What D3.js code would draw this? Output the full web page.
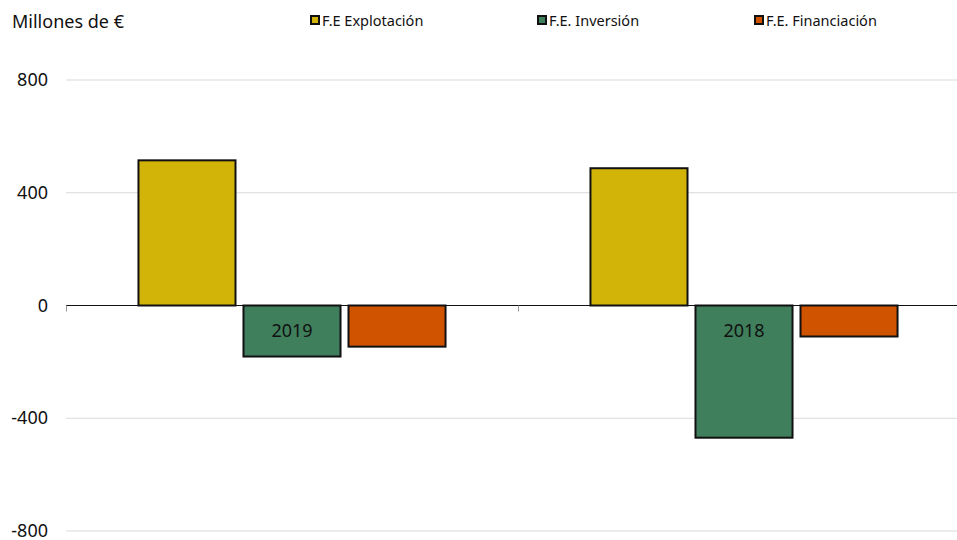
<!DOCTYPE html>
<html>
<head>
<meta charset="utf-8">
<script src="https://cdn.jsdelivr.net/npm/d3@7"></script>
<style>
  body { margin: 0; background: #fff; }
  svg text { font-family: "Noto Sans", sans-serif; fill: #111; }
</style>
</head>
<body>
<svg width="957" height="540"></svg>
<script>
const years = ['2019', '2018'];
const seriesNames = ['F.E Explotación', 'F.E. Inversión', 'F.E. Financiación'];
const seriesColors = ['#d2b408', '#3f7f5b', '#d05300'];
const explotacion = [515, 487];
const inversion = [-181, -469];
const financiacion = [-146, -110];
const yTicks = [-800, -400, 0, 400, 800];

const svg = d3.select('svg');
const plotLeft = 66, plotRight = 970, plotTop = 80, plotBottom = 531;

const y = d3.scaleLinear().domain([-800, 800]).range([plotBottom, plotTop]);
const x0 = d3.scaleBand().domain(years).range([plotLeft, plotRight]).paddingInner(0).paddingOuter(0);
const x1 = d3.scaleBand().domain(seriesNames).range([0, x0.bandwidth()]).paddingInner(0.076).paddingOuter(0.69);

// grid
svg.append('g')
  .selectAll('line')
  .data(yTicks.filter(d => d !== 0))
  .enter()
  .append('line')
  .attr('x1', plotLeft)
  .attr('x2', 957)
  .attr('y1', d => y(d))
  .attr('y2', d => y(d))
  .attr('stroke', '#d9d9d9')
  .attr('stroke-width', 1);

// y labels
svg.append('g')
  .selectAll('text')
  .data(yTicks)
  .enter()
  .append('text')
  .attr('x', 48)
  .attr('y', d => y(d) + 6)
  .attr('text-anchor', 'end')
  .style('font-size', '18px')
  .text(d => d);

const rows = years.map((yr, i) => ({
  year: yr,
  values: [explotacion[i], inversion[i], financiacion[i]],
}));

const group = svg.selectAll('g.cat')
  .data(rows)
  .enter()
  .append('g')
  .attr('class', 'cat')
  .attr('transform', d => `translate(${x0(d.year)},0)`);

group.selectAll('rect')
  .data(d => d.values.map((v, i) => ({ name: seriesNames[i], value: v, color: seriesColors[i] })))
  .enter()
  .append('rect')
  .attr('x', d => x1(d.name))
  .attr('width', x1.bandwidth())
  .attr('y', d => y(Math.max(0, d.value)))
  .attr('height', d => Math.abs(y(d.value) - y(0)))
  .attr('fill', d => d.color)
  .attr('stroke', '#111')
  .attr('stroke-width', 2);

// zero line + category ticks
svg.append('line')
  .attr('x1', plotLeft)
  .attr('x2', 957)
  .attr('y1', y(0))
  .attr('y2', y(0))
  .attr('stroke', '#111')
  .attr('stroke-width', 1);

svg.append('g')
  .selectAll('line')
  .data(years)
  .enter()
  .append('line')
  .attr('x1', d => x0(d) + 0.5)
  .attr('x2', d => x0(d) + 0.5)
  .attr('y1', y(0))
  .attr('y2', y(0) + 6)
  .attr('stroke', '#999');

// category labels
group.append('text')
  .attr('x', x0.bandwidth() / 2)
  .attr('y', y(0) + 31)
  .attr('text-anchor', 'middle')
  .style('font-size', '18px')
  .text(d => d.year);

// title
svg.append('text')
  .attr('x', 12)
  .attr('y', 28)
  .style('font-size', '18px')
  .text('Millones de €');

// legend
const legendX = [311, 538, 755];
const legend = svg.selectAll('g.leg')
  .data(seriesNames)
  .enter()
  .append('g')
  .attr('class', 'leg')
  .attr('transform', (d, i) => `translate(${legendX[i]},16)`);

legend.append('rect')
  .attr('width', 8)
  .attr('height', 8)
  .attr('fill', (d, i) => seriesColors[i])
  .attr('stroke', '#111')
  .attr('stroke-width', 2);

legend.append('text')
  .attr('x', 11)
  .attr('y', 10)
  .style('font-size', '14.5px')
  .text(d => d);
</script>
</body>
</html>
